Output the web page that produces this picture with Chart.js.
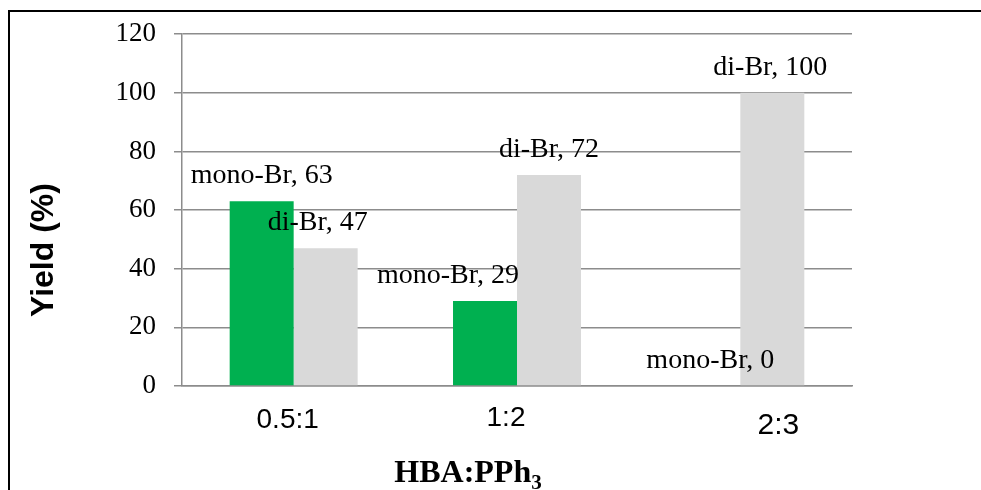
<!DOCTYPE html>
<html>
<head>
<meta charset="utf-8">
<script src="https://cdn.jsdelivr.net/npm/chart.js@4"></script>
<style>
  html, body { margin: 0; padding: 0; background: #fff; }
  #wrap { width: 981px; height: 490px; }
</style>
</head>
<body>
<div id="wrap"><canvas id="yieldChart" width="981" height="490"></canvas></div>
<script>
const ratios = ["0.5:1", "1:2", "2:3"];
const monoBr = [63, 29, 0];
const diBr = [47, 72, 100];
const yTicks = [0, 20, 40, 60, 80, 100, 120];

// nudges for the value labels and category labels (px)
const monoShift = [0, -37, 2];
const diShift = [-8, 0, -2];
const catShift = [[-6, 428, 28], [-11, 426, 28], [38, 434, 30]];

const canvas = document.getElementById("yieldChart");

const decorations = {
  id: "decorations",
  beforeDraw(chart) {
    const ctx = chart.ctx;
    ctx.save();
    ctx.fillStyle = "#fff";
    ctx.fillRect(0, 0, chart.width, chart.height);
    ctx.strokeStyle = "#000";
    ctx.lineWidth = 2;
    ctx.beginPath();
    ctx.moveTo(9, 490);
    ctx.lineTo(9, 11);
    ctx.lineTo(981, 11);
    ctx.stroke();
    ctx.restore();
  },
  afterDraw(chart) {
    const ctx = chart.ctx;
    const x = chart.scales.x;
    ctx.save();
    ctx.fillStyle = "#000";

    // value labels above each bar
    ctx.font = "28px 'Liberation Serif'";
    ctx.textAlign = "center";
    ctx.textBaseline = "alphabetic";
    const names = ["mono-Br", "di-Br"];
    const shifts = [monoShift, diShift];
    chart.data.datasets.forEach((ds, d) => {
      chart.getDatasetMeta(d).data.forEach((bar, i) => {
        ctx.fillText(names[d] + ", " + ds.data[i], bar.x + shifts[d][i], bar.y - 18);
      });
    });

    // category labels
    ratios.forEach((r, i) => {
      const [dx, y, size] = catShift[i];
      ctx.font = size + "px 'Liberation Sans'";
      ctx.fillText(r, x.getPixelForTick(i) + dx, y);
    });

    // x title with subscript
    ctx.textAlign = "left";
    ctx.font = "bold 32px 'Liberation Serif'";
    const main = "HBA:PPh";
    const w = ctx.measureText(main).width;
    ctx.font = "bold 21px 'Liberation Serif'";
    const sw = ctx.measureText("3").width;
    const left = 468 - (w + sw) / 2;
    ctx.font = "bold 32px 'Liberation Serif'";
    ctx.fillText(main, left, 482);
    ctx.font = "bold 21px 'Liberation Serif'";
    ctx.fillText("3", left + w, 489);

    // y title
    ctx.translate(53, 250);
    ctx.rotate(-Math.PI / 2);
    ctx.textAlign = "center";
    ctx.font = "bold 32px 'Liberation Sans'";
    ctx.fillText("Yield (%)", 0, 0);
    ctx.restore();
  },
};

new Chart(canvas, {
  type: "bar",
  data: {
    labels: ratios,
    datasets: [
      {
        label: "mono-Br",
        data: monoBr,
        backgroundColor: "#00b050",
        borderWidth: 0,
        categoryPercentage: 0.573,
        barPercentage: 1,
      },
      {
        label: "di-Br",
        data: diBr,
        backgroundColor: "#d9d9d9",
        borderWidth: 0,
        categoryPercentage: 0.573,
        barPercentage: 1,
      },
    ],
  },
  options: {
    responsive: false,
    animation: false,
    layout: {
      padding: { top: 34, right: 129, left: 0, bottom: 0 },
    },
    scales: {
      x: {
        afterFit(scale) {
          scale.height = 104;
        },
        grid: { display: false },
        ticks: { display: false },
        border: { display: true, color: "#8c8c8c", width: 1.5 },
      },
      y: {
        min: 0,
        max: 120,
        afterFit(scale) {
          scale.width = 182;
        },
        afterBuildTicks(scale) {
          scale.ticks = yTicks.map((v) => ({ value: v }));
        },
        grid: {
          color: "#8c8c8c",
          lineWidth: 1.5,
          tickLength: 8,
        },
        border: { color: "#8c8c8c", width: 1.5 },
        ticks: {
          color: "#000",
          padding: 18,
          font: { family: "'Liberation Serif'", size: 27 },
        },
      },
    },
    plugins: {
      legend: { display: false },
      tooltip: { enabled: false },
    },
  },
  plugins: [decorations],
});
</script>
</body>
</html>
